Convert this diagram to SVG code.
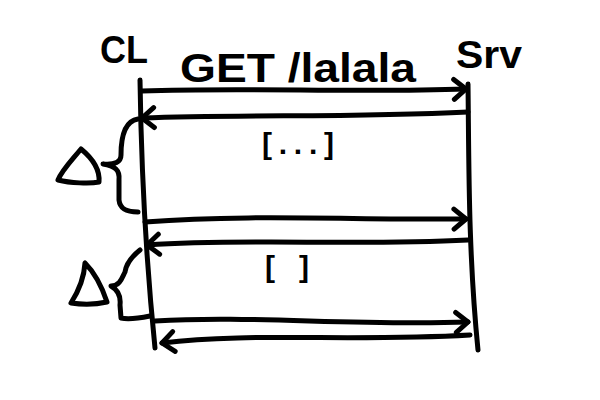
<svg xmlns="http://www.w3.org/2000/svg" width="600" height="400" viewBox="0 0 600 400">
<style>
.s{fill:none;stroke:#000;stroke-width:5;stroke-linecap:round;stroke-linejoin:round}
.t{font-family:"Liberation Sans",Arial,sans-serif;font-weight:bold;fill:#000}
</style>
<defs>
<marker id="ah" markerUnits="userSpaceOnUse" markerWidth="30" markerHeight="30" refX="15" refY="15" orient="auto">
<path d="M3,5 L15,15 L3,25" fill="none" stroke="#000" stroke-width="5" stroke-linecap="round" stroke-linejoin="round"/>
</marker>
</defs>
<rect width="600" height="400" fill="#fff"/>
<g id="cl">
<path class="s" d="M140,80 C141,150 145,250 155,348"/>
<text class="t" x="100" y="63" font-size="38" textLength="48" lengthAdjust="spacingAndGlyphs">CL</text>
</g>
<g id="srv">
<path class="s" d="M468,84 C469,160 468,250 478,350"/>
<text class="t" x="456" y="68" font-size="38" textLength="66" lengthAdjust="spacingAndGlyphs">Srv</text>
</g>
<g id="connectors">
<path class="s" marker-end="url(#ah)" d="M142,91 C250,87 350,93 466,89"/>
<path class="s" marker-end="url(#ah)" d="M468,112 C350,118 250,114 142,118"/>
<path class="s" marker-end="url(#ah)" d="M145,222 C250,214 350,220 466,219"/>
<path class="s" marker-end="url(#ah)" d="M468,240 C350,246 250,238 147,245"/>
<path class="s" marker-end="url(#ah)" d="M155,321 C250,315 350,326 468,322"/>
<path class="s" marker-end="url(#ah)" d="M470,335 C350,342 250,332 162,343"/>
</g>
<g id="labels">
<text class="t" x="180" y="82" font-size="40" textLength="236" lengthAdjust="spacingAndGlyphs">GET /lalala</text>
<text class="t" x="262" y="154" font-size="30" textLength="72" lengthAdjust="spacing">[...]</text>
<text class="t" x="265" y="277" font-size="30" textLength="44" lengthAdjust="spacing">[]</text>
</g>
<g id="delta1">
<path class="s" d="M138,119 C125,121 121,136 121,155 C121,162 115,165 103,164 C115,166 120,170 119,180 L119,200 C120,210 128,212 138,212"/>
<path class="s" d="M81,149 C72,160 62,170 58,180 C70,183 90,184 99,182 C100,170 92,158 81,149 Z"/>
</g>
<g id="delta2">
<path class="s" d="M140,250 C130,258 126,265 125,272 C122,278 120,286 111,286 C118,290 121,296 120,305 L121,318 C130,320 140,318 150,316"/>
<path class="s" d="M85,263 C84,280 78,292 71,303 C85,305 98,304 107,302 C103,290 95,273 85,263 Z"/>
</g>
</svg>
